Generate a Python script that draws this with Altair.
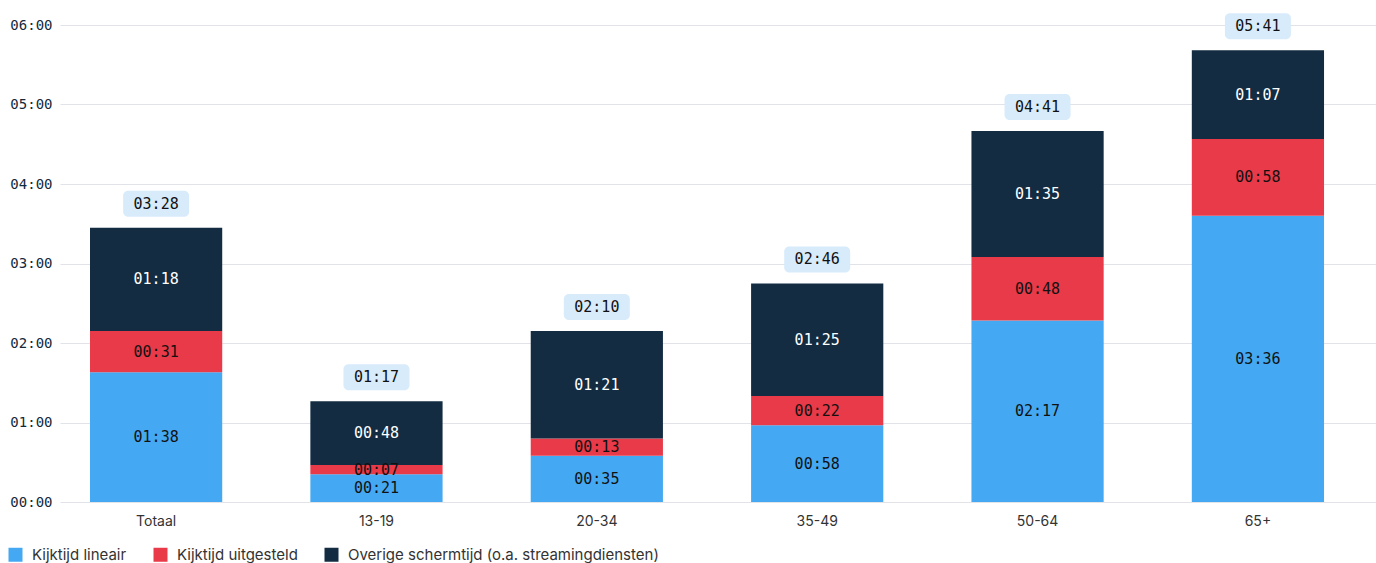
import altair as alt
import pandas as pd

groups = ["Totaal", "13-19", "20-34", "35-49", "50-64", "65+"]
series = ["Kijktijd lineair", "Kijktijd uitgesteld", "Overige schermtijd (o.a. streamingdiensten)"]
lineair = [98, 21, 35, 58, 137, 216]
uitgesteld = [31, 7, 13, 22, 48, 58]
overig = [78, 48, 81, 85, 95, 67]
totals = [208, 77, 130, 166, 281, 341]
colors = ["#44a9f2", "#e83a48", "#132c42"]
text_colors = ["#111111", "#111111", "#ffffff"]
ticks = [0, 60, 120, 180, 240, 300, 360]


def hhmm(m):
    return f"{int(m) // 60:02d}:{int(m) % 60:02d}"


rows = []
for i, g in enumerate(groups):
    base = 0
    for k, (s, vals) in enumerate(zip(series, [lineair, uitgesteld, overig])):
        v = vals[i]
        rows.append(dict(group=g, series=s, order=k, start=base, end=base + v,
                         mid=base + v / 2, label=hhmm(v), tcolor=text_colors[k]))
        base += v
seg = pd.DataFrame(rows)
tot = pd.DataFrame(dict(group=groups,
                        top=[a + b + c for a, b, c in zip(lineair, uitgesteld, overig)],
                        label=[hhmm(t) for t in totals]))

MONO = "DejaVu Sans Mono"
SANS = "Inter"

xscale = alt.Scale(domain=groups, paddingInner=0.4, paddingOuter=0.186, align=0.366)
yscale = alt.Scale(domain=[0, 360], nice=False)

x_axis = alt.Axis(title=None, labelAngle=0, ticks=False, domain=False,
                  labelPadding=12, labelFontSize=14, labelColor="#333333",
                  labelFont=SANS, grid=False)
y_axis = alt.Axis(values=ticks, title=None, ticks=False, domain=False,
                  grid=True, gridColor="#e1e3e8", gridWidth=1,
                  labelExpr="(datum.value < 600 ? '0' : '') + floor(datum.value/60) + ':00'",
                  labelPadding=8, labelFont=MONO, labelFontSize=14,
                  labelColor="#15293b", minExtent=60, maxExtent=60)


def X():
    return alt.X("group:N", scale=xscale, sort=groups, axis=x_axis)


def Y(field):
    return alt.Y(field, scale=yscale, axis=y_axis)


bars = alt.Chart(seg).mark_bar().encode(
    x=X(),
    y=Y("start:Q"),
    y2="end:Q",
    color=alt.Color("series:N", sort=series,
                    scale=alt.Scale(domain=series, range=colors),
                    legend=alt.Legend(title=None, orient="none", legendX=-52, legendY=522,
                                      direction="horizontal", symbolType="square",
                                      symbolSize=196, symbolStrokeWidth=0,
                                      labelFontSize=15, labelFont=SANS, labelColor="#333333",
                                      columnPadding=26, labelOffset=9, labelLimit=500)),
    order=alt.Order("order:Q"),
)

seg_text = alt.Chart(seg).mark_text(font=MONO, fontSize=15).encode(
    x=X(),
    y=Y("mid:Q"),
    text="label:N",
    color=alt.Color("tcolor:N", scale=None),
)

boxes = alt.Chart(tot).mark_bar(width=66, cornerRadius=5, color="#d8ebfb",
                                yOffset=-11, y2Offset=-37).encode(
    x=X(),
    y=Y("top:Q"),
    y2="top:Q",
)

tot_text = alt.Chart(tot).mark_text(font=MONO, fontSize=15, color="#111111", dy=-24).encode(
    x=X(),
    y=Y("top:Q"),
    text="label:N",
)

chart = alt.layer(bars, seg_text, boxes, tot_text).properties(
    width=1316, height=477,
    padding={"left": 0, "top": 13, "right": 0, "bottom": 0},
    background="white",
).configure_view(stroke=None)

chart.save("out.html", embed_options={"renderer": "svg", "actions": False})
